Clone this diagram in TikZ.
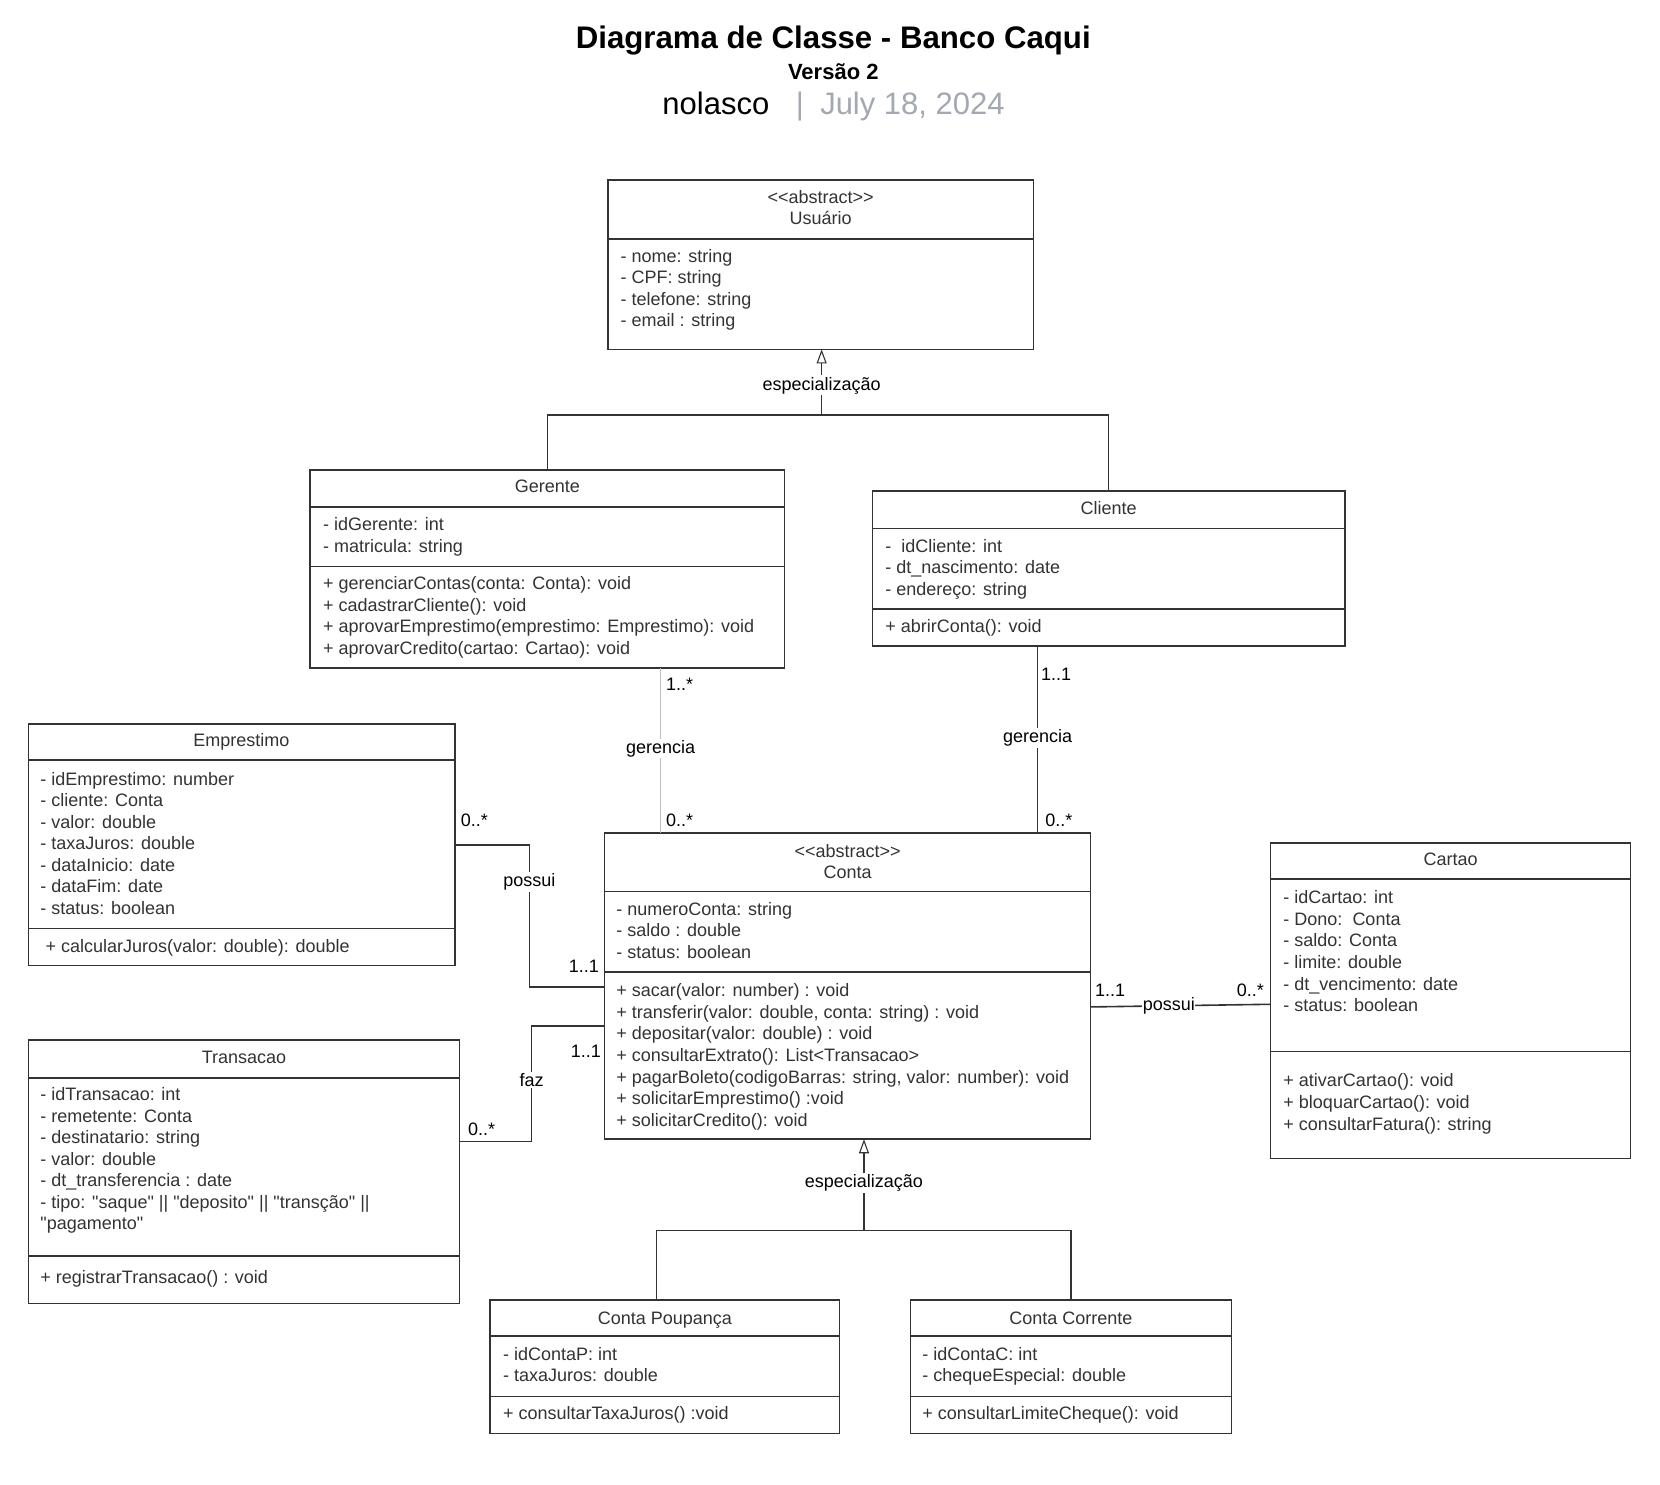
\documentclass[tikz,border=0pt]{standalone}
\usepackage{fontspec}
\newfontfamily\lsans{Liberation Sans}
\usetikzlibrary{fit,arrows.meta}
\definecolor{boxline}{HTML}{333333}
\definecolor{txtgray}{HTML}{333333}
\definecolor{lightline}{HTML}{BDBDBD}
\definecolor{dategray}{HTML}{A3A9B3}
\tikzset{
  cls/.style={draw=boxline, line width=1.6pt, inner sep=0pt, outer sep=0pt, fill=white},
  divl/.style={draw=boxline, line width=1.6pt},
  txt/.style={anchor=base west, inner sep=0pt, font=\lsans\fontsize{18}{21.7}\selectfont, text=txtgray},
  ctitle/.style={anchor=base, inner sep=0pt, font=\lsans\fontsize{18}{21.7}\selectfont, text=txtgray},
  mult/.style={anchor=base west, inner sep=0pt, font=\lsans\fontsize{18}{21.7}\selectfont, text=black},
  lbl/.style={fill=white, inner sep=1.5pt, font=\lsans\fontsize{18}{21.7}\selectfont, text=black},
  assoc/.style={draw=boxline, line width=1.6pt},
  grayassoc/.style={draw=lightline, line width=1.4pt},
  gen/.style={draw=boxline, line width=1.6pt, -{Triangle[open, length=14pt, width=10pt, line width=1.1pt]}},
}
\newcommand\cmplines[5]{%
  \foreach \t [count=\i] in {#5} {\node[txt] (#1\i) at (#2, {#3+6.5+(\i-1)*#4}) {\t};}}
\begin{document}
\begin{tikzpicture}[x=1.0588pt, y=-1.0588pt]
\useasboundingbox[fill=white] (0,0) rectangle (1567.8,1401.6);

% ---------- header ----------
\node[anchor=base, inner sep=0pt, font=\lsans\bfseries\fontsize{31.2}{36}\selectfont] (title) at (787,45.5) {Diagrama de Classe - Banco Caqui};
\node[anchor=base, inner sep=0pt, font=\lsans\bfseries\fontsize{22}{25}\selectfont] (vers) at (787,75) {Versão 2};
\node[anchor=base west, inner sep=0pt, font=\lsans\fontsize{31}{36}\selectfont] (author) at (625.5,108.5) {nolasco};
\node[anchor=base, inner sep=0pt, font=\lsans\fontsize{31}{36}\selectfont, text=dategray] (bar) at (755.5,108.5) {|};
\node[anchor=base west, inner sep=0pt, font=\lsans\fontsize{31}{36}\selectfont, text=dategray] (date) at (774.5,108.5) {July 18, 2024};

\coordinate (g1) at (776,392);
\coordinate (g2) at (816,1162);

% ---------- classes ----------
% Usuario
\node[cls, fit={(574,170) (976,330)}] (usuario) {};
\draw[divl] (usuario.west |- 0,226) -- (usuario.east |- 0,226);
\node[ctitle] (usuarioS) at (775,192.5) {<<abstract>>};
\node[ctitle] (usuarioT) at (775,212.5) {Usuário};
\cmplines{ua}{586}{241}{20.35}{- nome: string, - CPF: string, - telefone: string, - email : string}

% Gerente
\node[cls, fit={(293,444) (741,631)}] (gerente) {};
\draw[divl] (gerente.west |- 0,479) -- (gerente.east |- 0,479);
\draw[divl] (gerente.west |- 0,535) -- (gerente.east |- 0,535);
\node[ctitle] (gerenteT) at (517,465.5) {Gerente};
\cmplines{ga}{305}{495}{20.35}{- idGerente: int, - matricula: string}
\cmplines{gm}{305}{550}{20.6}{{+ gerenciarContas(conta: Conta): void}, + cadastrarCliente(): void, {+ aprovarEmprestimo(emprestimo: Emprestimo): void}, {+ aprovarCredito(cartao: Cartao): void}}

% Cliente
\node[cls, fit={(824,464) (1270,610)}] (cliente) {};
\draw[divl] (cliente.west |- 0,499) -- (cliente.east |- 0,499);
\draw[divl] (cliente.west |- 0,575) -- (cliente.east |- 0,575);
\node[ctitle] (clienteT) at (1047,485.5) {Cliente};
\cmplines{ca}{836}{515}{20.35}{-\ \ idCliente: int, - dt\_nascimento: date, - endereço: string}
\cmplines{cm}{836}{591}{20.35}{+ abrirConta(): void}

% Emprestimo
\node[cls, fit={(27,684) (430,912)}] (emprestimo) {};
\draw[divl] (emprestimo.west |- 0,718) -- (emprestimo.east |- 0,718);
\draw[divl] (emprestimo.west |- 0,877) -- (emprestimo.east |- 0,877);
\node[ctitle] (emprestimoT) at (228,705.5) {Emprestimo};
\cmplines{ea}{38}{735}{20.35}{- idEmprestimo: number, - cliente: Conta, - valor: double, - taxaJuros: double, - dataInicio: date, - dataFim: date, - status: boolean}
\cmplines{em}{43}{893}{20.35}{{+ calcularJuros(valor: double): double}}

% Conta
\node[cls, fit={(571,787) (1030,1076)}] (conta) {};
\draw[divl] (conta.west |- 0,842) -- (conta.east |- 0,842);
\draw[divl] (conta.west |- 0,918) -- (conta.east |- 0,918);
\node[ctitle] (contaS) at (800.5,809.5) {<<abstract>>};
\node[ctitle] (contaT) at (800.5,829.5) {Conta};
\cmplines{ka}{582}{858}{20.35}{- numeroConta: string, - saldo : double, - status: boolean}
\cmplines{km}{582}{935}{20.35}{+ sacar(valor: number) : void, {+ transferir(valor: double, conta: string) : void}, + depositar(valor: double) : void, + consultarExtrato(): List<Transacao>, {+ pagarBoleto(codigoBarras: string, valor: number): void}, + solicitarEmprestimo() :void, + solicitarCredito(): void}

% Cartao
\node[cls, fit={(1200,796) (1540,1094)}] (cartao) {};
\draw[divl] (cartao.west |- 0,830) -- (cartao.east |- 0,830);
\draw[divl] (cartao.west |- 0,993) -- (cartao.east |- 0,993);
\node[ctitle] (cartaoT) at (1370,817.5) {Cartao};
\cmplines{ta}{1212}{847}{20.4}{- idCartao: int, - Dono:\ \ Conta, - saldo: Conta, - limite: double, - dt\_vencimento: date, - status: boolean}
\cmplines{tm}{1212}{1020}{20.4}{+ ativarCartao(): void, + bloquarCartao(): void, + consultarFatura(): string}

% Transacao
\node[cls, fit={(27,982) (434,1231)}] (transacao) {};
\draw[divl] (transacao.west |- 0,1018) -- (transacao.east |- 0,1018);
\draw[divl] (transacao.west |- 0,1186) -- (transacao.east |- 0,1186);
\node[ctitle] (transacaoT) at (230.5,1004.5) {Transacao};
\cmplines{xa}{38}{1033}{20.35}{- idTransacao: int, - remetente: Conta, - destinatario: string, - valor: double, - dt\_transferencia : date, - tipo: "saque" || "deposito" || "transção" ||, "pagamento"}
\cmplines{xm}{38}{1206}{20.35}{+ registrarTransacao() : void}

% Conta Poupanca
\node[cls, fit={(463,1228) (793,1354)}] (poupanca) {};
\draw[divl] (poupanca.west |- 0,1262) -- (poupanca.east |- 0,1262);
\draw[divl] (poupanca.west |- 0,1319) -- (poupanca.east |- 0,1319);
\node[ctitle] (poupancaT) at (628,1250.5) {Conta Poupança};
\cmplines{pa}{475}{1278}{20.35}{- idContaP: int, - taxaJuros: double}
\cmplines{pm}{475}{1334}{20.35}{+ consultarTaxaJuros() :void}

% Conta Corrente
\node[cls, fit={(860,1228) (1163,1354)}] (corrente) {};
\draw[divl] (corrente.west |- 0,1262) -- (corrente.east |- 0,1262);
\draw[divl] (corrente.west |- 0,1319) -- (corrente.east |- 0,1319);
\node[ctitle] (correnteT) at (1011.5,1250.5) {Conta Corrente};
\cmplines{ra}{871}{1278}{20.35}{- idContaC: int, - chequeEspecial: double}
\cmplines{rm}{871}{1334}{20.35}{+ consultarLimiteCheque(): void}

% ---------- connectors ----------
\draw[assoc] (gerente.north) -- (gerente.north |- g1) -- (cliente.north |- g1) -- (cliente.north);
\draw[gen] (g1) -- (usuario.south -| g1);
\node[lbl] (gen1) at (776,364) {especialização};

\draw[assoc] (poupanca.north -| 620,0) -- (620,1162) -- (corrente.north |- g2) -- (corrente.north);
\draw[gen] (g2) -- (conta.south -| g2);
\node[lbl] (gen2) at (816,1117) {especialização};

% Gerente - Conta
\draw[grayassoc] (gerente.south -| 624,0) -- (conta.north -| 624,0);
\node[lbl] (ger1) at (624,707) {gerencia};
\node[mult] (m1) at (629,652.5) {1..*};
\node[mult] (m2) at (629,780.5) {0..*};

% Cliente - Conta
\draw[assoc] (cliente.south -| 980,0) -- (conta.north -| 980,0);
\node[lbl] (ger2) at (980,697) {gerencia};
\node[mult] (m3) at (983,642.5) {1..1};
\node[mult] (m4) at (987,780.5) {0..*};

% Emprestimo - Conta
\draw[assoc] (emprestimo.east |- 0,798) -- (500,798) -- (500,932) -- (conta.west |- 0,932);
\node[lbl] (pos1) at (500,833) {possui};
\node[mult] (m5) at (435,780.5) {0..*};
\node[mult] (m6) at (537,918.5) {1..1};

% Transacao - Conta
\draw[assoc] (transacao.east |- 0,1078) -- (502,1078) -- (502,969) -- (conta.west |- 0,969);
\node[lbl] (faz) at (502,1020) {faz};
\node[mult] (m7) at (539,998.5) {1..1};
\node[mult] (m8) at (442,1072.5) {0..*};

% Conta - Cartao
\draw[assoc] (conta.east |- 0,951) -- (cartao.west |- 0,948.5);
\node[lbl, inner sep=0.5pt] (pos2) at (1104,950) {possui};
\node[mult] (m9) at (1034,941.5) {1..1};
\node[mult] (m10) at (1168,941.5) {0..*};
\end{tikzpicture}
\end{document}
